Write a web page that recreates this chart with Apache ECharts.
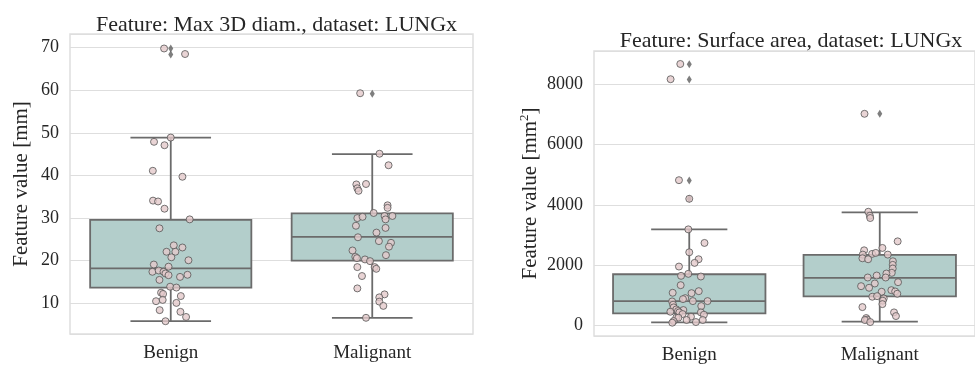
<!DOCTYPE html>
<html>
<head>
<meta charset="utf-8">
<script src="https://cdn.jsdelivr.net/npm/echarts@6/dist/echarts.min.js"></script>
<style>
  html, body { margin: 0; padding: 0; background: #fff; }
  #chart { width: 975px; height: 365px; }
</style>
</head>
<body>
<div id="chart"></div>
<script>
// categories
const categories = ['Benign', 'Malignant']

// box stats per category: [lower whisker, Q1, median, Q3, upper whisker]
const diamBox = [[5.8, 13.7, 18.2, 29.6, 48.9], [6.6, 20.0, 25.6, 31.1, 45.0]]
const areaBox = [[99, 397, 805, 1698, 3188], [122, 960, 1579, 2340, 3750]]

// fliers (outliers) per category
const diamFliers = [[69.8, 68.4], [59.2]]
const areaFliers = [[8672, 8166, 4810, 4204], [7027]]

// strip points: values and horizontal jitter (fraction of category width)
const diamBenign = [69.8, 68.5, 48.9, 47.9, 47.1, 41.1, 39.7, 34.1, 33.9, 32.2, 29.7, 27.6, 23.6, 23.1, 22.1, 22.1, 20.8, 20.1, 19.1, 18.6, 17.4, 17.7, 17.4, 17.0, 16.6, 16.2, 16.7, 15.5, 13.9, 13.7, 12.5, 12.2, 11.7, 10.8, 10.5, 10.1, 8.4, 8.0, 6.8, 5.8]
const diamBenignJit = [-0.033, 0.071, 0, -0.083, -0.031, -0.089, 0.058, -0.088, -0.063, -0.031, 0.094, -0.056, 0.015, 0.058, -0.021, 0.023, 0.003, 0.088, -0.084, -0.011, -0.091, -0.06, -0.036, -0.026, -0.011, 0.046, 0.083, -0.056, -0.003, 0.028, -0.048, -0.038, 0.05, -0.04, -0.073, 0.028, -0.055, 0.048, 0.076, -0.026]
const diamMalig = [59.3, 45.1, 42.4, 37.9, 38.0, 37.0, 36.4, 33.0, 32.4, 31.2, 30.0, 30.3, 30.5, 30.5, 29.7, 28.2, 27.7, 26.6, 25.5, 24.6, 24.2, 23.3, 22.4, 21.3, 20.9, 20.6, 20.3, 19.9, 18.5, 18.1, 18.5, 16.4, 13.5, 12.1, 11.4, 10.4, 9.4, 6.6]
const diamMaligJit = [-0.06, 0.036, 0.081, -0.079, -0.031, -0.074, -0.068, 0.076, 0.076, 0.007, -0.074, -0.048, 0.061, 0.1, 0.066, -0.081, 0.066, 0.021, -0.071, 0.033, 0.093, 0.083, -0.098, 0.068, -0.084, -0.076, -0.036, -0.011, 0.012, 0.02, -0.074, -0.051, -0.074, 0.061, 0.035, 0.035, 0.055, -0.031]
const areaBenign = [8682, 8176, 4822, 4204, 3188, 2737, 2427, 2195, 2075, 1953, 1711, 1645, 1622, 1334, 1135, 1069, 1082, 904, 871, 805, 805, 794, 685, 640, 596, 530, 508, 475, 452, 430, 430, 375, 353, 254, 287, 254, 177, 177, 143, 88, 110]
const areaBenignJit = [-0.047, -0.098, -0.054, 0, -0.005, 0.08, 0, 0.049, 0.028, -0.054, -0.005, -0.043, 0.061, -0.045, 0.05, 0.012, -0.087, -0.021, -0.033, 0.096, 0.019, -0.09, -0.085, 0.063, -0.082, -0.068, -0.031, -0.059, -0.099, -0.052, 0.061, -0.035, 0.077, -0.068, 0.009, -0.057, -0.014, 0.071, -0.082, -0.089, 0.035]
const areaMalig = [7027, 3773, 3641, 3565, 2790, 2492, 2571, 2350, 2373, 2406, 2350, 2228, 2195, 2128, 2009, 1887, 1744, 1721, 1589, 1655, 1589, 1433, 1390, 1301, 1248, 1115, 1168, 1125, 1049, 950, 970, 894, 818, 705, 606, 430, 308, 242, 189, 176, 109]
const areaMaligJit = [-0.08, -0.06, -0.052, -0.05, 0.094, -0.082, 0.014, -0.089, -0.04, -0.021, 0.042, -0.091, -0.061, 0.069, 0.068, 0.068, 0.063, 0.035, 0.031, -0.016, -0.063, 0.096, -0.026, -0.098, -0.056, 0.01, 0.061, 0.081, 0.092, -0.039, -0.014, 0.021, 0.016, 0.014, -0.091, 0.075, 0.085, -0.071, -0.066, -0.078, -0.05]

const FONT = 'Liberation Serif'
const TXT = '#262626'
const GRIDC = '#dedede'

function boxData (box) {
    return box.map((b, i) => [i].concat(b))
}
function stripData (vals, jit, cat) {
    return vals.map((v, i) => [cat + jit[i], v])
}
function flierData (fl) {
    const out = []
    fl.forEach((arr, i) => arr.forEach(v => out.push([i, v])))
    return out
}

function renderBox (params, api) {
    const x = api.value(0)
    const lo = api.value(1), q1 = api.value(2), med = api.value(3), q3 = api.value(4), hi = api.value(5)
    const tl = api.coord([x - 0.4, q3])
    const br = api.coord([x + 0.4, q1])
    const ml = api.coord([x - 0.4, med])
    const mr = api.coord([x + 0.4, med])
    const pHi = api.coord([x, hi])
    const pLo = api.coord([x, lo])
    const pQ3 = api.coord([x, q3])
    const pQ1 = api.coord([x, q1])
    const capL = api.coord([x - 0.2, hi])[0]
    const capR = api.coord([x + 0.2, hi])[0]
    const line = { stroke: '#6b6b6b', lineWidth: 1.8 }
    return {
        type: 'group',
        children: [
            { type: 'line', shape: { x1: pHi[0], y1: pHi[1], x2: pQ3[0], y2: pQ3[1] }, style: line },
            { type: 'line', shape: { x1: pLo[0], y1: pLo[1], x2: pQ1[0], y2: pQ1[1] }, style: line },
            { type: 'line', shape: { x1: capL, y1: pHi[1], x2: capR, y2: pHi[1] }, style: line },
            { type: 'line', shape: { x1: capL, y1: pLo[1], x2: capR, y2: pLo[1] }, style: line },
            { type: 'rect', shape: { x: tl[0], y: tl[1], width: br[0] - tl[0], height: br[1] - tl[1] },
              style: { fill: '#b3cecb', stroke: '#6b6b6b', lineWidth: 1.8 } },
            { type: 'line', shape: { x1: ml[0], y1: ml[1], x2: mr[0], y2: mr[1] }, style: line }
        ]
    }
}

const chart = echarts.init(document.getElementById('chart'), null, { renderer: 'canvas' })

const catAxis = (gi) => ({
    type: 'category', gridIndex: gi, data: categories,
    axisLine: { show: false }, axisTick: { show: false },
    axisLabel: { fontFamily: FONT, fontSize: 19, color: TXT, margin: 10 }
})
const valXAxis = (gi) => ({ type: 'value', gridIndex: gi, min: -0.5, max: 1.5, show: false })
const yAxisOf = (gi, min, max, split, step, name, gap) => ({
    type: 'value', gridIndex: gi, min: min, max: max, splitNumber: split,
    name: name, nameLocation: 'middle', nameGap: gap,
    nameTextStyle: { fontFamily: FONT, fontSize: 21, color: TXT, lineHeight: 24,
        rich: { sup: { fontFamily: FONT, fontSize: 13, color: TXT, verticalAlign: 'top', lineHeight: 24 } } },
    axisLine: { show: false }, axisTick: { show: false },
    axisLabel: { fontFamily: FONT, fontSize: 18, color: TXT, margin: 11,
        formatter: v => (Math.abs(v % step) < 1e-6 ? String(v) : '') },
    splitLine: { lineStyle: { color: GRIDC, width: 1.2 } }
})

const pointStyle = { color: '#e3c9cb', borderColor: '#555', borderWidth: 1 }
const flierStyle = { color: '#5e5e5e' }

const option = {
    animation: false,
    title: [
        { text: 'Feature: Max 3D diam., dataset: LUNGx', left: 271.5, top: 9, textAlign: 'center',
          textStyle: { fontFamily: FONT, fontSize: 22, fontWeight: 'normal', color: TXT } },
        { text: 'Feature: Surface area, dataset: LUNGx', left: 786, top: 25, textAlign: 'center',
          textStyle: { fontFamily: FONT, fontSize: 22, fontWeight: 'normal', color: TXT } }
    ],
    grid: [
        { left: 70, top: 34, width: 403, height: 300, show: true, borderColor: GRIDC, borderWidth: 1.5, containLabel: false },
        { left: 594, top: 51, width: 383, height: 286, show: true, borderColor: GRIDC, borderWidth: 1.5, containLabel: false }
    ],
    xAxis: [catAxis(0), valXAxis(0), catAxis(1), valXAxis(1)],
    yAxis: [
        yAxisOf(0, 2.8, 73.2, 7, 10, 'Feature value [mm]', 37),
        yAxisOf(1, -354, 9113, 5, 2000, 'Feature value [mm{sup|2}]', 52)
    ],
    series: [
        { type: 'custom', xAxisIndex: 1, yAxisIndex: 0, renderItem: renderBox, data: boxData(diamBox), z: 2, silent: true },
        { type: 'scatter', xAxisIndex: 1, yAxisIndex: 0, data: flierData(diamFliers), symbol: 'diamond', symbolSize: [5, 8], itemStyle: flierStyle, z: 3 },
        { type: 'scatter', xAxisIndex: 1, yAxisIndex: 0, data: stripData(diamBenign, diamBenignJit, 0), symbolSize: 7, itemStyle: pointStyle, z: 4 },
        { type: 'scatter', xAxisIndex: 1, yAxisIndex: 0, data: stripData(diamMalig, diamMaligJit, 1), symbolSize: 7, itemStyle: pointStyle, z: 4 },
        { type: 'custom', xAxisIndex: 3, yAxisIndex: 1, renderItem: renderBox, data: boxData(areaBox), z: 2, silent: true },
        { type: 'scatter', xAxisIndex: 3, yAxisIndex: 1, data: flierData(areaFliers), symbol: 'diamond', symbolSize: [5, 8], itemStyle: flierStyle, z: 3 },
        { type: 'scatter', xAxisIndex: 3, yAxisIndex: 1, data: stripData(areaBenign, areaBenignJit, 0), symbolSize: 7, itemStyle: pointStyle, z: 4 },
        { type: 'scatter', xAxisIndex: 3, yAxisIndex: 1, data: stripData(areaMalig, areaMaligJit, 1), symbolSize: 7, itemStyle: pointStyle, z: 4 }
    ]
}
chart.setOption(option)
</script>
</body>
</html>
